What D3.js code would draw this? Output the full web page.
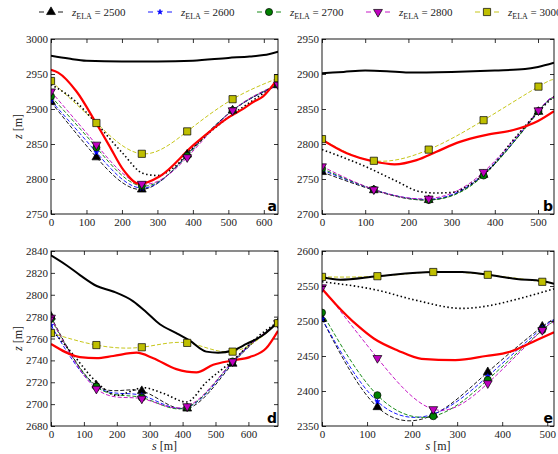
<!DOCTYPE html>
<html>
<head>
<meta charset="utf-8">
<script src="https://d3js.org/d3.v7.min.js"></script>
<style>
    body { margin: 0; background: #fff; }
    svg { display: block; }
    .tick line { stroke: #000; stroke-width: 0.8; }
</style>
</head>
<body>
<svg id="fig" width="558" height="454"></svg>
<script>
    const serif = "'Liberation Serif', 'Times New Roman', 'DejaVu Serif', serif";

    // ---- legend / series ----
    const elaLabels = ["2500", "2600", "2700", "2800", "3000"];
    const elaColors = ["#000000", "#0000ff", "#008000", "#bf00bf", "#bfbf00"];

    // ---- panel a ----
    const aSurfS = [0, 50, 100, 200, 300, 400, 500, 560, 600, 640];
    const aSurfZ = [2976, 2972, 2969, 2968, 2968, 2969, 2973, 2975, 2977, 2982];
    const aRedS = [0, 20, 72, 127, 165, 204, 250, 307, 403, 504, 544, 570, 598, 640];
    const aRedZ = [2956, 2952, 2925, 2880, 2847, 2813, 2793, 2804, 2849, 2889, 2901, 2910, 2918, 2944];
    const aDotS = [0, 60, 127, 200, 260, 300, 350, 400, 500, 600, 640];
    const aDotZ = [2935, 2915, 2880, 2838, 2808, 2805, 2818, 2845, 2888, 2923, 2938];
    const aMarkS = [0, 128, 256, 384, 512, 640];
    const aEla2500 = [2910, 2831, 2785, 2835, 2898, 2934];
    const aEla2600 = [2912, 2838, 2787, 2834, 2898, 2934];
    const aEla2700 = [2918, 2845, 2790, 2833, 2898, 2935];
    const aEla2800 = [2925, 2849, 2793, 2831, 2898, 2935];
    const aEla3000 = [2940, 2880, 2836, 2868, 2914, 2944];

    // ---- panel b ----
    const bSurfS = [0, 50, 100, 150, 200, 300, 400, 470, 500, 537];
    const bSurfZ = [2901, 2903, 2905, 2904, 2902, 2903, 2905, 2907, 2910, 2916];
    const bRedS = [0, 56, 120, 168, 219, 265, 319, 381, 443, 500, 537];
    const bRedZ = [2806, 2787, 2775, 2771, 2777, 2789, 2803, 2813, 2820, 2833, 2847];
    const bDotS = [0, 100, 172, 226, 265, 304, 342, 381, 443, 505, 537];
    const bDotZ = [2792, 2768, 2747, 2732, 2730, 2731, 2742, 2760, 2806, 2849, 2868];
    const bMarkS = [0, 120, 247, 374, 501, 537];
    const bEla2500 = [2760, 2734, 2720, 2756, 2846, 2866];
    const bEla2600 = [2763, 2735, 2721, 2757, 2847, 2866];
    const bEla2700 = [2765, 2735, 2720, 2755, 2847, 2865];
    const bEla2800 = [2768, 2735, 2722, 2760, 2848, 2866];
    const bEla3000 = [2807, 2776, 2792, 2834, 2882, 2892];

    // ---- panel d ----
    const dSurfS = [0, 47, 88, 139, 189, 250, 290, 331, 381, 422, 472, 508, 553, 594, 644, 690];
    const dSurfZ = [2836, 2827, 2818, 2808, 2803, 2794, 2784, 2773, 2765, 2758, 2748, 2747, 2749, 2755, 2763, 2775];
    const dRedS = [0, 88, 139, 189, 260, 311, 381, 442, 493, 553, 604, 654, 690];
    const dRedZ = [2755, 2743, 2742, 2744, 2747, 2742, 2732, 2729, 2736, 2740, 2743, 2751, 2767];
    const dDotS = [0, 60, 139, 199, 282, 340, 412, 472, 553, 634, 690];
    const dDotZ = [2769, 2748, 2720, 2708, 2715, 2710, 2702, 2720, 2740, 2763, 2775];
    const dMarkS = [0, 138, 276, 414, 552, 690];
    const dEla2500 = [2780, 2717, 2712, 2696, 2737, 2774];
    const dEla2600 = [2772, 2716, 2708, 2697, 2738, 2774];
    const dEla2700 = [2778, 2716, 2706, 2697, 2739, 2774];
    const dEla2800 = [2779, 2714, 2705, 2698, 2739, 2774];
    const dEla3000 = [2765, 2754, 2752, 2756, 2748, 2774];

    // ---- panel e ----
    const eSurfS = [0, 40, 123, 247, 311, 368, 432, 489, 515];
    const eSurfZ = [2563, 2559, 2564, 2570, 2570, 2566, 2560, 2557, 2553];
    const eRedS = [0, 32, 78, 115, 168, 221, 296, 364, 417, 477, 515];
    const eRedZ = [2546, 2523, 2494, 2475, 2458, 2446, 2444, 2450, 2456, 2473, 2484];
    const eDotS = [0, 123, 206, 311, 372, 432, 515];
    const eDotZ = [2556, 2544, 2530, 2518, 2522, 2531, 2546];
    const eMarkS = [0, 123, 247, 368, 489, 515];
    const eEla2500 = [2503, 2377, 2366, 2427, 2492, 2500];
    const eEla2600 = [2503, 2385, 2367, 2421, 2490, 2500];
    const eEla2700 = [2512, 2394, 2364, 2416, 2487, 2497];
    const eEla2800 = [2548, 2447, 2374, 2411, 2487, 2495];
    const eEla3000 = [2563, 2564, 2570, 2566, 2556, 2553];

    const panels = [
        { id: "a", sMax: 640, zDom: [2750, 3000], sTicks: d3.range(0, 601, 100), zTicks: d3.range(2750, 3001, 50),
          surf: [aSurfS, aSurfZ], red: [aRedS, aRedZ], dot: [aDotS, aDotZ], markS: aMarkS, nMark: 6,
          ela: [aEla2500, aEla2600, aEla2700, aEla2800, aEla3000], yLabel: true, xLabel: false },
        { id: "b", sMax: 537, zDom: [2700, 2950], sTicks: d3.range(0, 501, 100), zTicks: d3.range(2700, 2951, 50),
          surf: [bSurfS, bSurfZ], red: [bRedS, bRedZ], dot: [bDotS, bDotZ], markS: bMarkS, nMark: 5,
          ela: [bEla2500, bEla2600, bEla2700, bEla2800, bEla3000], yLabel: false, xLabel: false },
        { id: "d", sMax: 690, zDom: [2680, 2840], sTicks: d3.range(0, 601, 100), zTicks: d3.range(2680, 2841, 20),
          surf: [dSurfS, dSurfZ], red: [dRedS, dRedZ], dot: [dDotS, dDotZ], markS: dMarkS, nMark: 6,
          ela: [dEla2500, dEla2600, dEla2700, dEla2800, dEla3000], yLabel: true, xLabel: true },
        { id: "e", sMax: 515, zDom: [2350, 2600], sTicks: d3.range(0, 501, 100), zTicks: d3.range(2350, 2601, 50),
          surf: [eSurfS, eSurfZ], red: [eRedS, eRedZ], dot: [eDotS, eDotZ], markS: eMarkS, nMark: 5,
          ela: [eEla2500, eEla2600, eEla2700, eEla2800, eEla3000], yLabel: false, xLabel: true }
    ];

    const boxes = {
        a: { x0: 51, x1: 278, y0: 39, y1: 214 },
        b: { x0: 322, x1: 554, y0: 39, y1: 214 },
        d: { x0: 51, x1: 278, y0: 251, y1: 426 },
        e: { x0: 322, x1: 554, y0: 251, y1: 426 }
    };

    const svg = d3.select("#fig");
    svg.append("rect").attr("width", 558).attr("height", 454).attr("fill", "#fff");

    // marker generators for the five series
    const markerPaths = [
        d3.symbol().type(d3.symbolTriangle).size(34)(),
        d3.symbol().type(d3.symbolStar).size(8)(),
        d3.symbol().type(d3.symbolCircle).size(40)(),
        d3.symbol().type(d3.symbolTriangle).size(34)(),
        d3.symbol().type(d3.symbolSquare).size(52)()
    ];
    const markerRot = [0, 0, 0, 180, 0];

    function drawMarker(sel, i, cx, cy) {
        sel.append("path")
            .attr("d", markerPaths[i])
            .attr("transform", `translate(${cx},${cy}) rotate(${markerRot[i]})`)
            .attr("fill", elaColors[i])
            .attr("stroke", i === 1 ? elaColors[i] : "#000")
            .attr("stroke-width", 0.7);
    }

    function pairs(arr) {
        return arr[0].map((s, i) => [s, arr[1][i]]);
    }

    panels.forEach(p => {
        const b = boxes[p.id];
        const x = d3.scaleLinear().domain([0, p.sMax]).range([b.x0, b.x1]);
        const y = d3.scaleLinear().domain(p.zDom).range([b.y1, b.y0]);
        const g = svg.append("g").attr("class", "panel-" + p.id);

        g.append("clipPath").attr("id", "clip-" + p.id)
            .append("rect")
            .attr("x", b.x0).attr("y", b.y0)
            .attr("width", b.x1 - b.x0).attr("height", b.y1 - b.y0);

        const plot = g.append("g").attr("clip-path", `url(#clip-${p.id})`);

        const lineSmooth = d3.line().x(d => x(d[0])).y(d => y(d[1])).curve(d3.curveMonotoneX);
        const lineSpline = d3.line().x(d => x(d[0])).y(d => y(d[1])).curve(d3.curveNatural);

        // dashed ELA lines
        p.ela.forEach((zs, i) => {
            plot.append("path")
                .datum(p.markS.map((s, k) => [s, zs[k]]))
                .attr("d", lineSpline)
                .attr("fill", "none")
                .attr("stroke", elaColors[i])
                .attr("stroke-width", 0.9)
                .attr("stroke-dasharray", "4,2");
        });
        // dotted
        plot.append("path").datum(pairs(p.dot)).attr("d", lineSmooth)
            .attr("fill", "none").attr("stroke", "#000").attr("stroke-width", 1.6)
            .attr("stroke-dasharray", "1.5,2.5");
        // red
        plot.append("path").datum(pairs(p.red)).attr("d", lineSmooth)
            .attr("fill", "none").attr("stroke", "#ff0000").attr("stroke-width", 2.2);
        // surface
        plot.append("path").datum(pairs(p.surf)).attr("d", lineSmooth)
            .attr("fill", "none").attr("stroke", "#000").attr("stroke-width", 2);

        // markers
        p.ela.forEach((zs, i) => {
            const mg = plot.append("g");
            for (let k = 0; k < p.nMark; k++) drawMarker(mg, i, x(p.markS[k]), y(zs[k]));
        });

        // axes, ticks pointing inward
        const fmt = d3.format("d");
        g.append("g").attr("transform", `translate(0,${b.y1})`)
            .call(d3.axisBottom(x).tickValues(p.sTicks).tickSize(-4).tickPadding(4).tickFormat(fmt));
        g.append("g").attr("transform", `translate(${b.x0},0)`)
            .call(d3.axisLeft(y).tickValues(p.zTicks).tickSize(-4).tickPadding(3).tickFormat(fmt));
        g.append("g").attr("transform", `translate(0,${b.y0})`)
            .call(d3.axisTop(x).tickValues(p.sTicks).tickSize(-4).tickFormat(""));
        g.append("g").attr("transform", `translate(${b.x1},0)`)
            .call(d3.axisRight(y).tickValues(p.zTicks).tickSize(-4).tickFormat(""));
        g.selectAll(".domain").remove();
        g.selectAll(".tick text")
            .attr("fill", "#222")
            .style("font-family", serif)
            .style("font-size", "11px");

        g.append("rect")
            .attr("x", b.x0).attr("y", b.y0)
            .attr("width", b.x1 - b.x0).attr("height", b.y1 - b.y0)
            .attr("fill", "none").attr("stroke", "#000").attr("stroke-width", 0.9);

        g.append("text")
            .attr("x", b.x1 - 1).attr("y", b.y1 - 3)
            .attr("text-anchor", "end")
            .style("font-family", "'DejaVu Sans', sans-serif")
            .style("font-weight", "bold")
            .style("font-size", "14px")
            .text(p.id);

        if (p.yLabel) {
            const t = g.append("text")
                .attr("transform", `translate(22,${(b.y0 + b.y1) / 2}) rotate(-90)`)
                .attr("text-anchor", "middle")
                .style("font-family", serif)
                .style("font-size", "12px").attr("fill", "#222");
            t.append("tspan").attr("font-style", "italic").text("z");
            t.append("tspan").text(" [m]");
        }
        if (p.xLabel) {
            const t = g.append("text")
                .attr("x", (b.x0 + b.x1) / 2).attr("y", 450)
                .attr("text-anchor", "middle")
                .style("font-family", serif)
                .style("font-size", "12px").attr("fill", "#222");
            t.append("tspan").attr("font-style", "italic").text("s");
            t.append("tspan").text(" [m]");
        }
    });

    // legend across the top
    const legend = svg.append("g").attr("class", "legend");
    elaLabels.forEach((lab, i) => {
        const cx = 51 + 109 * i, cy = 12;
        const item = legend.append("g");
        [[-12, -7], [7, 12]].forEach(seg => {
            item.append("line")
                .attr("x1", cx + seg[0]).attr("x2", cx + seg[1])
                .attr("y1", cy).attr("y2", cy)
                .attr("stroke", elaColors[i]).attr("stroke-width", 0.9);
        });
        drawMarker(item, i, cx, cy);
        const t = item.append("text")
            .attr("x", cx + 21).attr("y", cy + 4)
            .style("font-family", serif)
            .style("font-size", "11px").attr("fill", "#222");
        t.append("tspan").attr("font-style", "italic").text("z");
        t.append("tspan").attr("dy", 3).style("font-size", "8px").text("ELA");
        t.append("tspan").attr("dy", -3).text(" = " + lab);
    });
</script>
</body>
</html>
